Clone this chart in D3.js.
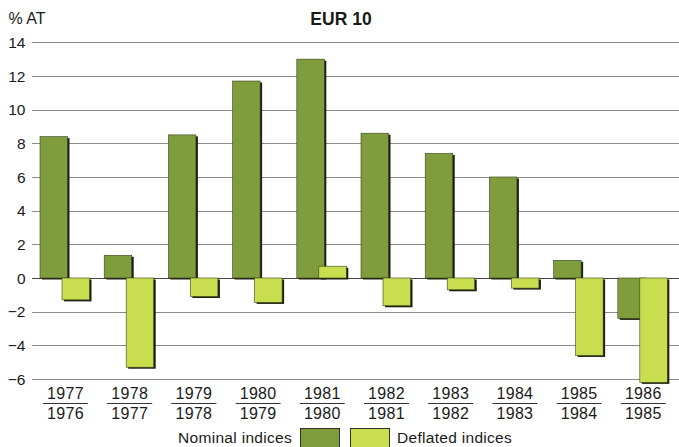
<!DOCTYPE html>
<html>
<head>
<meta charset="utf-8">
<script src="https://cdn.jsdelivr.net/npm/d3@7"></script>
<style>
  body { margin: 0; background: #fff; }
  text { font-family: "Liberation Sans", Arial, sans-serif; fill: #1a1a1a; }
</style>
</head>
<body>
<div id="chart"></div>
<script>
// data
var yearsTop = ["1977", "1978", "1979", "1980", "1981", "1982", "1983", "1984", "1985", "1986"];
var yearsBottom = ["1976", "1977", "1978", "1979", "1980", "1981", "1982", "1983", "1984", "1985"];
var nominal = [8.4, 1.35, 8.5, 11.7, 13.0, 8.6, 7.4, 6.0, 1.05, -2.4];
var deflated = [-1.3, -5.3, -1.1, -1.45, 0.7, -1.65, -0.7, -0.6, -4.6, -6.2];
var yTicks = [14, 12, 10, 8, 6, 4, 2, 0, -2, -4, -6];
var seriesNames = ["Nominal indices", "Deflated indices"];
var seriesColors = ["#7f9d3d", "#c9de4e"];

var width = 679, height = 447;

var svg = d3.select("#chart").append("svg")
    .attr("width", width)
    .attr("height", height);

// scales
var y = d3.scaleLinear()
    .domain([-6, 14])
    .range([379, 42.3]);

var x = d3.scaleBand()
    .domain(yearsTop)
    .range([40, 668.8])
    .paddingInner(0.206)
    .paddingOuter(0);

var xSub = d3.scalePoint()
    .domain([0, 1])
    .range([0, 22]);

var barWidth = 27.5;

// grid lines + y labels
var grid = svg.append("g");
grid.selectAll("line")
    .data(yTicks)
  .enter().append("line")
    .attr("x1", 32)
    .attr("x2", 679)
    .attr("y1", function(d) { return Math.round(y(d)) + 0.5; })
    .attr("y2", function(d) { return Math.round(y(d)) + 0.5; })
    .style("stroke", function(d) { return d === 0 ? "#444" : "#8a8a8a"; })
    .style("stroke-width", 1);

grid.selectAll("text")
    .data(yTicks)
  .enter().append("text")
    .attr("x", 25.5)
    .attr("y", function(d) { return y(d); })
    .attr("dy", "0.36em")
    .attr("text-anchor", "end")
    .style("font-size", "15.5px")
    .text(function(d) { return d < 0 ? "\u2212" + Math.abs(d) : d; });

// bars
var rows = yearsTop.map(function(yr, i) {
  return [
    {year: yr, s: 0, v: nominal[i]},
    {year: yr, s: 1, v: deflated[i]}
  ];
});

var group = svg.append("g").selectAll(".grp")
    .data(rows)
  .enter().append("g")
    .attr("class", "grp")
    .attr("transform", function(d) { return "translate(" + x(d[0].year) + ",0)"; });

var bar = group.selectAll(".bar")
    .data(function(d) { return d; })
  .enter().append("g")
    .attr("class", "bar");

// shadow
bar.append("rect")
    .attr("x", function(d) { return xSub(d.s) + 2; })
    .attr("y", function(d) { return Math.min(y(d.v), y(0)) + 1.5; })
    .attr("width", barWidth)
    .attr("height", function(d) { return Math.abs(y(d.v) - y(0)); })
    .style("fill", "#1c1f10");

bar.append("rect")
    .attr("x", function(d) { return xSub(d.s); })
    .attr("y", function(d) { return Math.min(y(d.v), y(0)); })
    .attr("width", barWidth)
    .attr("height", function(d) { return Math.abs(y(d.v) - y(0)); })
    .style("fill", function(d) { return seriesColors[d.s]; })
    .style("stroke", "#3a4220")
    .style("stroke-width", 0.6);

// x labels as fractions
var lab = svg.append("g").selectAll(".lab")
    .data(yearsTop)
  .enter().append("g")
    .attr("class", "lab")
    .attr("transform", function(d) { return "translate(" + (x(d) + x.bandwidth() / 2) + ",0)"; });

lab.append("text")
    .attr("y", 399)
    .attr("text-anchor", "middle")
    .style("font-size", "16px")
    .style("letter-spacing", "0.3px")
    .text(function(d) { return d; });

lab.append("line")
    .attr("x1", -22.5)
    .attr("x2", 22.5)
    .attr("y1", 403.5)
    .attr("y2", 403.5)
    .style("stroke", "#333")
    .style("stroke-width", 1);

lab.append("text")
    .attr("y", 418.5)
    .attr("text-anchor", "middle")
    .style("font-size", "16px")
    .style("letter-spacing", "0.3px")
    .text(function(d, i) { return yearsBottom[i]; });

// titles
svg.append("text")
    .attr("x", 8.5)
    .attr("y", 24)
    .style("font-size", "16px")
    .text("% AT");

svg.append("text")
    .attr("x", 341)
    .attr("y", 25)
    .attr("text-anchor", "middle")
    .style("font-size", "17.5px")
    .style("font-weight", "bold")
    .text("EUR 10");

// legend
var legend = svg.append("g");
legend.append("text")
    .attr("x", 292)
    .attr("y", 443)
    .attr("text-anchor", "end")
    .style("font-size", "15.5px")
    .style("letter-spacing", "0.3px")
    .text(seriesNames[0]);
legend.append("rect")
    .attr("x", 300.5).attr("y", 428.5)
    .attr("width", 39).attr("height", 22)
    .style("fill", seriesColors[0])
    .style("stroke", "#333").style("stroke-width", 1);
legend.append("rect")
    .attr("x", 350.5).attr("y", 428.5)
    .attr("width", 39).attr("height", 22)
    .style("fill", seriesColors[1])
    .style("stroke", "#333").style("stroke-width", 1);
legend.append("text")
    .attr("x", 397)
    .attr("y", 443)
    .style("font-size", "15.5px")
    .style("letter-spacing", "0.3px")
    .text(seriesNames[1]);
</script>
</body>
</html>
